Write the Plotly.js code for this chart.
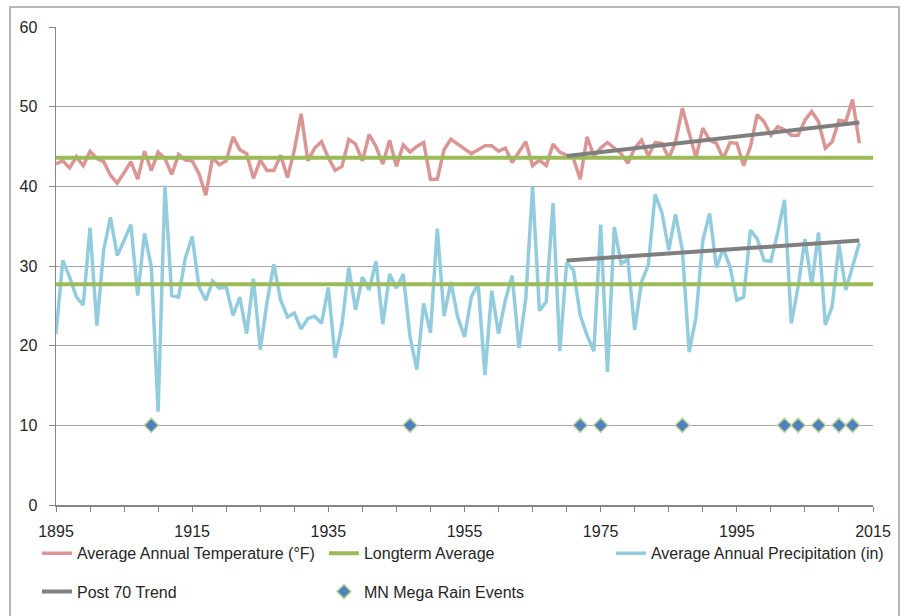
<!DOCTYPE html>
<html>
<head>
<meta charset="utf-8">
<script src="https://cdn.plot.ly/plotly-3.0.1.min.js"></script>
<style>
  html, body { margin: 0; padding: 0; background: #ffffff; }
  #chart { width: 903px; height: 616px; }
</style>
</head>
<body>
<div id="chart"></div>
<script>
// ---- Data ----
const firstYear = 1895;
const temperature = [
  42.8, 43.2, 42.3, 43.7, 42.6, 44.4, 43.5, 43.1, 41.4, 40.4,
  41.7, 43.1, 40.9, 44.4, 42.0, 44.3, 43.5, 41.5, 44.0, 43.3,
  43.2, 41.6, 38.9, 43.6, 42.7, 43.2, 46.2, 44.6, 44.1, 41.0,
  43.3, 42.0, 42.0, 43.9, 41.1, 44.5, 49.1, 43.2, 44.8, 45.6,
  43.6, 42.0, 42.5, 45.9, 45.3, 43.2, 46.5, 45.0, 42.8, 45.8,
  42.5, 45.2, 44.3, 45.0, 45.5, 40.9, 40.9, 44.6, 45.9, 45.3,
  44.6, 44.1, 44.6, 45.1, 45.1, 44.4, 44.8, 43.0, 44.3, 45.6,
  42.6, 43.3, 42.6, 45.3, 44.3, 43.9, 43.5, 40.9, 46.2, 43.8,
  44.8, 45.5, 44.8, 44.1, 42.9, 44.8, 45.8, 43.8, 45.5, 45.4,
  43.5, 45.6, 49.8, 46.6, 43.6, 47.3, 45.8, 45.4, 43.5, 45.5,
  45.4, 42.6, 45.0, 49.0, 48.1, 46.4, 47.5, 47.1, 46.4, 46.4,
  48.3, 49.4, 48.1, 44.8, 45.6, 48.3, 48.1, 50.9, 45.4
];
const precipitation = [
  21.5, 30.7, 28.6, 26.1, 25.1, 34.8, 22.5, 32.0, 36.1, 31.3,
  33.2, 35.2, 26.3, 34.1, 29.9, 11.7, 40.1, 26.3, 26.1, 31.0,
  33.7, 27.4, 25.7, 28.1, 27.2, 27.4, 23.8, 26.1, 21.5, 28.4,
  19.5, 25.5, 30.2, 25.7, 23.6, 24.1, 22.1, 23.4, 23.7, 22.8,
  27.3, 18.5, 22.6, 29.8, 24.5, 28.6, 27.0, 30.6, 22.7, 29.0,
  27.2, 29.0, 21.1, 17.0, 25.3, 21.6, 34.7, 23.7, 28.0, 23.6,
  21.1, 26.1, 27.8, 16.3, 26.9, 21.5, 25.7, 28.8, 19.7, 25.9,
  40.0, 24.4, 25.5, 37.9, 19.3, 30.4, 29.5, 23.8, 21.3, 19.3,
  35.2, 16.7, 34.9, 30.3, 30.8, 22.0, 28.0, 30.1, 39.0, 36.7,
  32.0, 36.5, 32.0, 19.2, 23.6, 33.2, 36.6, 29.8, 32.2, 29.9,
  25.7, 26.1, 34.5, 33.4, 30.7, 30.6, 34.2, 38.3, 22.8, 27.4,
  33.4, 27.6, 34.2, 22.6, 24.9, 32.7, 27.0, 29.8, 32.9
];
const years = temperature.map((_, i) => firstYear + i);

const avgYears = [1895, 2015];
const tempLongtermAvg = [43.6, 43.6];
const precipLongtermAvg = [27.7, 27.7];

const trendYears = [1970, 2013];
const tempTrend = [43.8, 48.0];
const precipTrend = [30.7, 33.2];

const megaRainYears = [1909, 1947, 1972, 1975, 1987, 2002, 2004, 2007, 2010, 2012];
const megaRainLevel = megaRainYears.map(() => 10);

const xTickVals = [1895, 1915, 1935, 1955, 1975, 1995, 2015];
const yTickVals = [0, 10, 20, 30, 40, 50, 60];

// ---- Styles ----
const cTemp = '#DA9694';
const cAvg = '#9BBB59';
const cPrecip = '#93CDDD';
const cTrend = '#7F7F7F';
const cAxis = '#868686';
const cText = '#262626';
const fontFamily = '"Liberation Sans", Arial, sans-serif';

const traces = [
  { x: years, y: temperature, type: 'scatter', mode: 'lines',
    name: 'Average Annual Temperature (°F)', line: { color: cTemp, width: 3.5 },
    legend: 'legend', legendrank: 1 },
  { x: years, y: precipitation, type: 'scatter', mode: 'lines',
    name: 'Average Annual Precipitation (in)', line: { color: cPrecip, width: 3.5 },
    legend: 'legend', legendrank: 3 },
  { x: avgYears, y: tempLongtermAvg, type: 'scatter', mode: 'lines',
    name: 'Longterm Average', line: { color: cAvg, width: 4 },
    legend: 'legend', legendrank: 2 },
  { x: avgYears, y: precipLongtermAvg, type: 'scatter', mode: 'lines',
    name: 'Longterm Average', line: { color: cAvg, width: 4 }, showlegend: false },
  { x: trendYears, y: tempTrend, type: 'scatter', mode: 'lines',
    name: 'Post 70 Trend', line: { color: cTrend, width: 4 },
    legend: 'legend2', legendrank: 1 },
  { x: trendYears, y: precipTrend, type: 'scatter', mode: 'lines',
    name: 'Post 70 Trend', line: { color: cTrend, width: 4 }, showlegend: false },
  { x: megaRainYears, y: megaRainLevel, type: 'scatter', mode: 'markers',
    name: 'MN Mega Rain Events',
    marker: { symbol: 'diamond', size: 11, color: '#4F81BD', line: { color: '#C3D69B', width: 1.5 } },
    legend: 'legend2', legendrank: 2 }
];

const legendCommon = {
  orientation: 'h', xanchor: 'left', yanchor: 'top',
  x: -0.0233, entrywidth: 242, entrywidthmode: 'pixels',
  font: { family: fontFamily, size: 16, color: cText },
  bgcolor: 'rgba(0,0,0,0)', borderwidth: 0, traceorder: 'normal'
};

const layout = {
  width: 903, height: 616,
  margin: { l: 56, r: 30, t: 27, b: 111, pad: 0, autoexpand: false },
  paper_bgcolor: '#ffffff', plot_bgcolor: '#ffffff',
  font: { family: fontFamily, size: 16, color: cText },
  showlegend: true,
  xaxis: {
    range: [1895, 2015], tickvals: xTickVals, ticktext: xTickVals.map(String),
    ticks: 'outside', ticklen: 5, tickwidth: 1, tickcolor: cAxis,
    showline: true, linecolor: cAxis, linewidth: 1.5,
    showgrid: false, zeroline: false, ticklabelstandoff: 6,
    tickfont: { family: fontFamily, size: 16, color: cText },
    minor: { tick0: 1895, dtick: 5, ticks: 'outside', ticklen: 5, tickcolor: cAxis, showgrid: false }
  },
  yaxis: {
    range: [0, 60], tickvals: yTickVals,
    ticks: 'outside', ticklen: 6, tickwidth: 1, tickcolor: cAxis,
    showline: true, linecolor: cAxis, linewidth: 1.5,
    showgrid: true, gridcolor: '#A6A6A6', gridwidth: 1, zeroline: false,
    ticklabelstandoff: 8,
    tickfont: { family: fontFamily, size: 16, color: cText }
  },
  legend: Object.assign({}, legendCommon, { y: -0.0655 }),
  legend2: Object.assign({}, legendCommon, { y: -0.1456 }),
  shapes: [
    { type: 'rect', xref: 'paper', yref: 'paper',
      x0: -0.0563, x1: 1.0318, y0: -0.30, y1: 1.0418,
      line: { color: '#A0A0A0', width: 1.5 }, fillcolor: 'rgba(0,0,0,0)', layer: 'below' }
  ]
};

Plotly.newPlot('chart', traces, layout, { displayModeBar: false, staticPlot: true });
</script>
</body>
</html>
